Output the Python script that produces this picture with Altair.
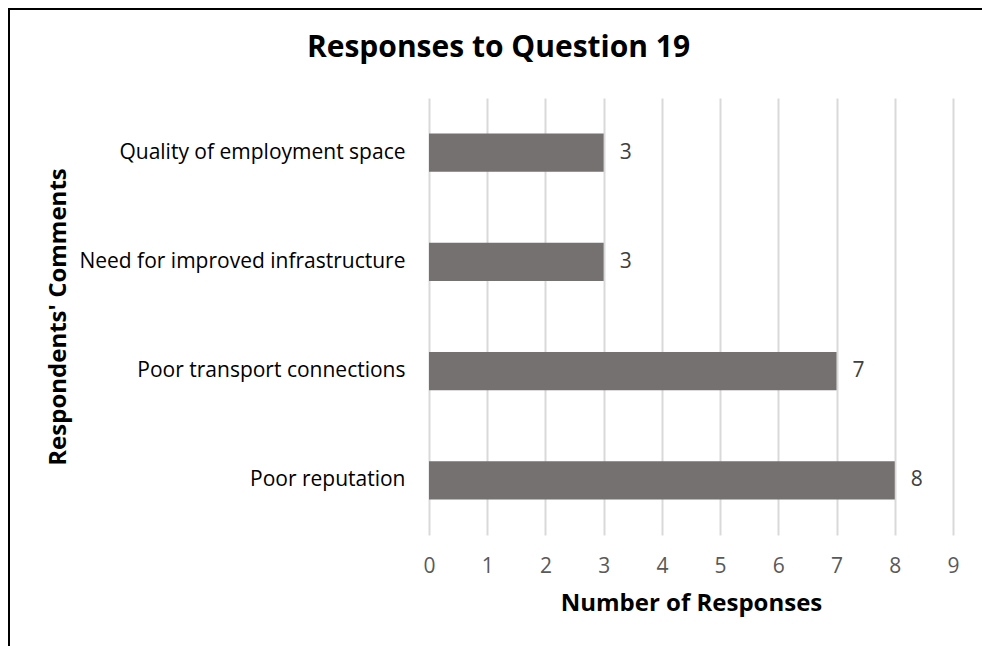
import altair as alt
import pandas as pd

categories = [
    "Quality of employment space",
    "Need for improved infrastructure",
    "Poor transport connections",
    "Poor reputation",
]
responses = [3, 3, 7, 8]
x_ticks = [0, 1, 2, 3, 4, 5, 6, 7, 8, 9]

df = pd.DataFrame({"comment": categories, "count": responses})

FONT = "Open Sans"

base = alt.Chart(df)

y_enc = alt.Y(
    "comment:N",
    sort=categories,
    scale=alt.Scale(paddingInner=0.65, paddingOuter=0.325),
    axis=alt.Axis(
        title="Respondents' Comments",
        titleFont=FONT,
        titleFontSize=24,
        titleFontWeight="bold",
        titleColor="#000000",
        titleAngle=-90,
        titleBaseline="alphabetic",
        titleX=-364,
        labelFont=FONT,
        labelFontSize=21,
        labelColor="#000000",
        labelPadding=24,
        labelLimit=400,
        ticks=False,
        domain=False,
        grid=False,
    ),
)

x_enc = alt.X(
    "count:Q",
    scale=alt.Scale(domain=[0, 9], nice=False),
    axis=alt.Axis(
        values=x_ticks,
        format="d",
        title="Number of Responses",
        titleFont=FONT,
        titleFontSize=24,
        titleFontWeight="bold",
        titleColor="#000000",
        titleBaseline="alphabetic",
        titleY=75,
        labelFont=FONT,
        labelFontSize=21,
        labelColor="#595959",
        labelPadding=20,
        labelFlush=False,
        labelOverlap=False,
        ticks=False,
        domain=False,
        grid=True,
        gridColor="#d9d9d9",
        gridWidth=2,
    ),
)

bars = base.mark_bar(color="#767171").encode(x=x_enc, y=y_enc)

labels = base.mark_text(
    align="left", baseline="middle", dx=16, font=FONT, fontSize=21, color="#404040"
).encode(x="count:Q", y=alt.Y("comment:N", sort=categories), text="count:Q")

top_border = base.mark_rule(color="#000000", strokeWidth=2).encode(
    x=alt.value(-421), x2=alt.value(560), y=alt.value(-89)
)
left_border = base.mark_rule(color="#000000", strokeWidth=2).encode(
    x=alt.value(-420), y=alt.value(-90), y2=alt.value(560)
)

chart = (
    alt.layer(bars, labels, top_border, left_border)
    .properties(
        width=524,
        height=437,
        title=alt.TitleParams(
            "Responses to Question 19",
            font=FONT,
            fontSize=30,
            fontWeight="bold",
            color="#000000",
            anchor="middle",
            frame="bounds",
            baseline="alphabetic",
            offset=39,
            dy=119,
        ),
        autosize=alt.AutoSizeParams(type="none"),
        padding={"left": 429, "top": 98, "right": 29, "bottom": 111},
        background="#ffffff",
    )
    .configure_view(stroke=None)
)

chart.save("out.html", embed_options={"renderer": "svg", "actions": False})
